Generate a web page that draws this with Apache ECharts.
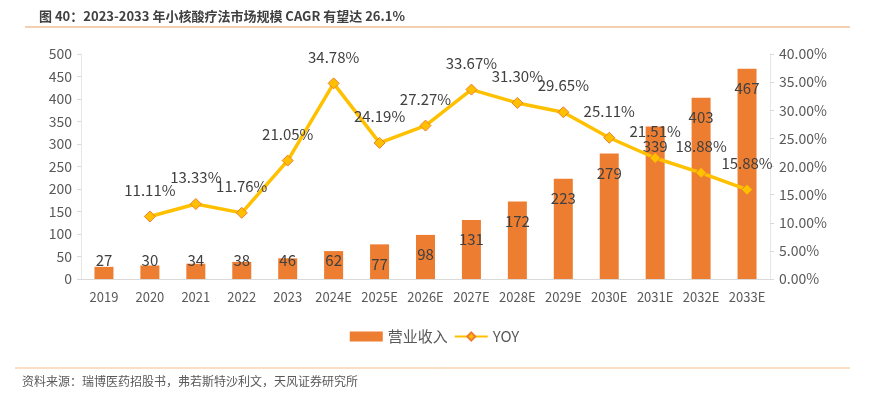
<!DOCTYPE html>
<html>
<head>
<meta charset="utf-8">
<script src="https://cdn.jsdelivr.net/npm/echarts@6/dist/echarts.min.js"></script>
<style>
  html, body { margin: 0; padding: 0; background: #fff; }
  #chart { width: 869px; height: 396px; }
</style>
</head>
<body>
<div id="chart"></div>
<script>
// data
var years = ['2019', '2020', '2021', '2022', '2023', '2024E', '2025E', '2026E', '2027E', '2028E', '2029E', '2030E', '2031E', '2032E', '2033E'];
var revenue = [27, 30, 34, 38, 46, 62, 77, 98, 131, 172, 223, 279, 339, 403, 467];
var yoy = [null, 11.11, 13.33, 11.76, 21.05, 34.78, 24.19, 27.27, 33.67, 31.30, 29.65, 25.11, 21.51, 18.88, 15.88];

var font = '"Microsoft YaHei", "Noto Sans CJK SC", sans-serif';
var grey = '#595959';

var chart = echarts.init(document.getElementById('chart'));

var barData = revenue.map(function (v) {
  // short bars get their label near the base, like the original
  var small = v < 70;
  return {
    value: v,
    label: small ? { position: 'insideBottom', distance: 11 } : { position: 'insideTop', distance: 12 }
  };
});

chart.setOption({
  animation: false,
  title: {
    text: '图 40：2023-2033 年小核酸疗法市场规模 CAGR 有望达 26.1%',
    left: 34,
    top: 5,
    textStyle: { fontFamily: font, fontSize: 13, fontWeight: 'bold', color: '#404040' }
  },
  graphic: [
    { type: 'line', shape: { x1: 25, y1: 27, x2: 850, y2: 27 }, style: { stroke: '#E8A060', lineWidth: 1 } },
    { type: 'line', shape: { x1: 15, y1: 368, x2: 850, y2: 368 }, style: { stroke: '#F6C08C', lineWidth: 1 } },
    {
      type: 'text', left: 22, top: 375,
      style: { text: '资料来源：瑞博医药招股书，弗若斯特沙利文，天风证券研究所', fontFamily: font, fontSize: 12, fill: '#595959' }
    }
  ],
  legend: {
    bottom: 47,
    left: 'center',
    itemGap: 6,
    itemWidth: 33,
    itemHeight: 10,
    textStyle: { fontFamily: font, fontSize: 15, color: grey },
    data: [
      { name: '营业收入', icon: 'rect' },
      { name: 'YOY' }
    ]
  },
  grid: { left: 81, right: 99, top: 54, bottom: 117 },
  xAxis: {
    type: 'category',
    data: years,
    axisLine: { lineStyle: { color: '#D9D9D9' } },
    axisTick: { show: false },
    axisLabel: { interval: 0, fontFamily: font, fontSize: 13, color: grey, margin: 12 }
  },
  yAxis: [
    {
      type: 'value',
      min: 0, max: 500, interval: 50,
      axisLine: { show: true, lineStyle: { color: '#E6E6E6' } },
      axisTick: { show: true, length: 4, lineStyle: { color: '#D9D9D9' } },
      splitLine: { show: false },
      axisLabel: { fontFamily: font, fontSize: 14, color: grey, margin: 9 }
    },
    {
      type: 'value',
      min: 0, max: 40, interval: 5,
      axisLine: { show: true, lineStyle: { color: '#E6E6E6' } },
      axisTick: { show: true, length: 4, lineStyle: { color: '#D9D9D9' } },
      splitLine: { show: false },
      axisLabel: {
        fontFamily: font, fontSize: 14, color: grey, margin: 9,
        formatter: function (v) { return v.toFixed(2) + '%'; }
      }
    }
  ],
  series: [
    {
      name: '营业收入',
      type: 'bar',
      barWidth: 19,
      itemStyle: { color: '#ED7D31' },
      label: { show: true, fontFamily: font, fontSize: 15, color: '#404040' },
      data: barData
    },
    {
      name: 'YOY',
      type: 'line',
      yAxisIndex: 1,
      symbol: 'diamond',
      symbolSize: 11,
      lineStyle: { color: '#FFC000', width: 3.5 },
      itemStyle: { color: '#FFC000', borderColor: '#ED7D31', borderWidth: 1 },
      label: {
        show: true, position: 'top', distance: 13,
        fontFamily: font, fontSize: 15, color: '#404040',
        formatter: function (p) { return p.value.toFixed(2) + '%'; }
      },
      data: yoy
    }
  ]
});
</script>
</body>
</html>
